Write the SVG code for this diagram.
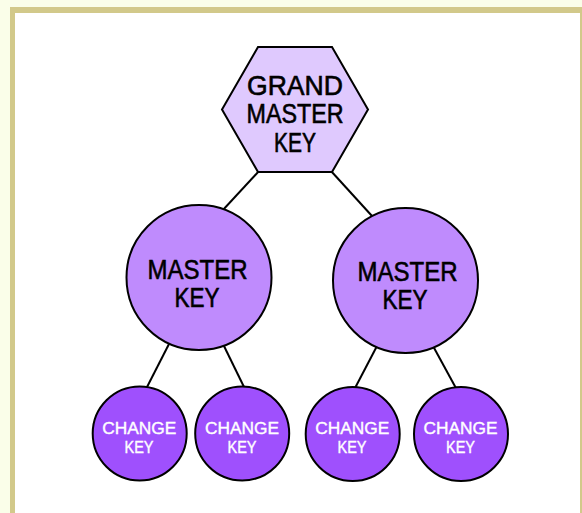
<svg xmlns="http://www.w3.org/2000/svg" width="582" height="513" viewBox="0 0 582 513">
<style>
.edge{stroke:#000;stroke-width:2;fill:none}
.node{stroke:#000;stroke-width:2}
.hex{fill:#dfc9fe}
.master{fill:#bf8bfd}
.change{fill:#9f50fd}
text{font-family:"Liberation Sans",Arial,sans-serif;text-anchor:middle}
.big{font-size:27px;fill:#000;stroke:#000;stroke-width:0.6}
.small{font-size:17px;fill:#fff;stroke:#fff;stroke-width:0.4}
</style>
<rect x="0" y="0" width="582" height="513" fill="#fafee9"/>
<rect x="10" y="7" width="572" height="506" fill="#d2c98a"/>
<rect x="15" y="13" width="565" height="500" fill="#ffffff"/>
<g id="connectors">
<line class="edge" x1="259" y1="171" x2="222" y2="211"/>
<line class="edge" x1="331" y1="171" x2="372" y2="216"/>
<line class="edge" x1="169" y1="344" x2="146" y2="389"/>
<line class="edge" x1="223" y1="344" x2="245" y2="389"/>
<line class="edge" x1="377" y1="346" x2="354" y2="390"/>
<line class="edge" x1="433" y1="346" x2="457" y2="390"/>
</g>
<g id="grand-master-key">
<polygon class="node hex" points="258,47 332,47 368,109.5 332,172 258,172 222,109.5"/>
<text class="big" x="295" y="95" textLength="96" lengthAdjust="spacingAndGlyphs">GRAND</text>
<text class="big" x="295" y="123" textLength="97" lengthAdjust="spacingAndGlyphs">MASTER</text>
<text class="big" x="295" y="151.5" textLength="42" lengthAdjust="spacingAndGlyphs">KEY</text>
</g>
<g id="master-key-1">
<circle class="node master" cx="199" cy="277.5" r="72.5"/>
<text class="big" x="197.5" y="279" textLength="100" lengthAdjust="spacingAndGlyphs">MASTER</text>
<text class="big" x="197" y="307" textLength="45" lengthAdjust="spacingAndGlyphs">KEY</text>
</g>
<g id="master-key-2">
<circle class="node master" cx="405.5" cy="280.5" r="72.5"/>
<text class="big" x="407.5" y="281" textLength="100" lengthAdjust="spacingAndGlyphs">MASTER</text>
<text class="big" x="405" y="308.5" textLength="45" lengthAdjust="spacingAndGlyphs">KEY</text>
</g>
<g id="change-key-1">
<circle class="node change" cx="139.7" cy="433.5" r="47"/>
<text class="small" x="139.2" y="433.5" textLength="74" lengthAdjust="spacingAndGlyphs">CHANGE</text>
<text class="small" x="139" y="452.5" textLength="29" lengthAdjust="spacingAndGlyphs">KEY</text>
</g>
<g id="change-key-2">
<circle class="node change" cx="242.2" cy="433.5" r="47"/>
<text class="small" x="242" y="433.5" textLength="74" lengthAdjust="spacingAndGlyphs">CHANGE</text>
<text class="small" x="242" y="452.5" textLength="29" lengthAdjust="spacingAndGlyphs">KEY</text>
</g>
<g id="change-key-3">
<circle class="node change" cx="352.7" cy="434" r="47"/>
<text class="small" x="352.2" y="434" textLength="74" lengthAdjust="spacingAndGlyphs">CHANGE</text>
<text class="small" x="352" y="453" textLength="29" lengthAdjust="spacingAndGlyphs">KEY</text>
</g>
<g id="change-key-4">
<circle class="node change" cx="461" cy="434" r="47"/>
<text class="small" x="460.5" y="434" textLength="74" lengthAdjust="spacingAndGlyphs">CHANGE</text>
<text class="small" x="460.5" y="453" textLength="29" lengthAdjust="spacingAndGlyphs">KEY</text>
</g>
</svg>
